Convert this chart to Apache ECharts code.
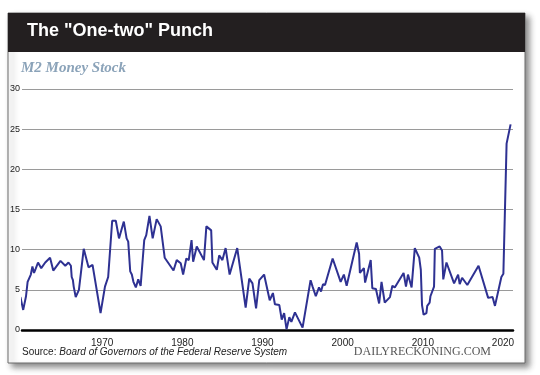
<!DOCTYPE html>
<html>
<head>
<meta charset="utf-8">
<script src="https://cdn.jsdelivr.net/npm/echarts@6/dist/echarts.min.js"></script>
<style>
  html, body { margin: 0; padding: 0; background: #fff; }
  #chart { width: 540px; height: 375px; }
</style>
</head>
<body>
<div id="chart"></div>
<script>
// M2 money stock, year-over-year growth (%)
const years = [
  1959.8, 1960.15, 1960.5, 1960.7, 1961.1, 1961.3, 1961.5, 1961.7, 1962.0, 1962.4,
  1962.9, 1963.5, 1963.9, 1964.8, 1965.4, 1965.8, 1966.1, 1966.2, 1966.35, 1966.45,
  1966.7, 1967.1, 1967.7, 1968.3, 1968.8, 1969.8, 1970.35, 1970.75, 1971.25, 1971.7,
  1972.1, 1972.7, 1973.05, 1973.25, 1973.5, 1973.7, 1973.9, 1974.2, 1974.5, 1974.8,
  1975.25, 1975.5, 1975.9, 1976.3, 1976.8, 1977.3, 1977.8, 1978.9, 1979.3, 1979.8,
  1980.1, 1980.5, 1980.8, 1981.15, 1981.35, 1981.8, 1982.7, 1983.0, 1983.6, 1983.75,
  1984.3, 1984.6, 1985.0, 1985.4, 1985.9, 1986.85, 1987.9, 1988.35, 1988.75, 1989.2,
  1989.6, 1990.2, 1990.9, 1991.3, 1991.55, 1992.1, 1992.4, 1992.7, 1993.0, 1993.35,
  1993.6, 1994.05, 1995.0, 1996.0, 1996.25, 1996.65, 1997.05, 1997.3, 1997.55, 1997.8,
  1998.75, 1999.75, 2000.15, 2000.5, 2001.75, 2002.05, 2002.15, 2002.65, 2002.8, 2003.5,
  2003.7, 2004.15, 2004.55, 2004.85, 2005.25, 2005.9, 2006.2, 2006.5, 2007.6, 2007.9,
  2008.15, 2008.6, 2009.0, 2009.55, 2009.75, 2009.9, 2010.1, 2010.45, 2010.55, 2010.85,
  2010.95, 2011.4, 2011.5, 2012.1, 2012.4, 2012.55, 2012.95, 2013.9, 2014.4, 2014.6,
  2014.9, 2015.55, 2016.95, 2018.15, 2018.7, 2019.0, 2019.8, 2020.05, 2020.45, 2020.95
];
const growth = [
  4.1, 2.5, 4.2, 6.0, 6.9, 7.9, 7.1, 7.6, 8.4, 7.7,
  8.4, 9.0, 7.4, 8.6, 8.0, 8.4, 8.0, 6.6, 6.2, 5.4,
  4.1, 5.0, 10.1, 7.8, 8.1, 2.1, 5.4, 6.6, 13.6, 13.6,
  11.4, 13.5, 11.4, 11.0, 7.3, 6.9, 6.0, 5.3, 6.3, 5.5,
  11.2, 11.8, 14.2, 11.4, 13.8, 12.9, 9.0, 7.4, 8.7, 8.3,
  6.9, 8.9, 8.7, 11.2, 8.5, 10.4, 8.7, 12.9, 12.4, 8.4,
  7.5, 9.3, 8.7, 10.2, 6.9, 10.2, 2.8, 6.4, 5.8, 2.7,
  6.2, 6.9, 3.7, 4.6, 3.2, 3.1, 1.3, 2.1, 0.1, 1.6,
  1.0, 2.2, 0.3, 6.2, 5.4, 4.2, 5.3, 4.8, 5.7, 5.6,
  8.9, 6.0, 6.9, 5.5, 10.9, 9.5, 7.1, 7.7, 5.9, 8.7,
  5.2, 5.1, 3.3, 6.0, 3.4, 4.1, 5.5, 5.3, 7.1, 5.4,
  6.9, 5.3, 10.2, 9.0, 7.5, 3.1, 1.9, 2.1, 3.0, 3.4,
  4.2, 5.4, 10.1, 10.4, 9.9, 6.3, 8.4, 5.8, 6.9, 5.7,
  6.5, 5.6, 8.0, 4.0, 4.1, 3.0, 6.6, 7.0, 23.2, 25.6
];
const yTicks = [0, 5, 10, 15, 20, 25, 30];
const xTicks = [1970, 1980, 1990, 2000, 2010, 2020];

const chart = echarts.init(document.getElementById('chart'));

let option = {
  animation: false,
  backgroundColor: '#fff',
  grid: {
    left: 22,
    right: 27,
    top: 89,
    bottom: 45,
    containLabel: false
  },
  graphic: [
    {
      type: 'rect',
      z: -10,
      shape: { x: 8, y: 13, width: 517, height: 350 },
      style: {
        fill: '#fff',
        stroke: '#6b6b6b',
        lineWidth: 1,
        shadowBlur: 6,
        shadowOffsetX: 4,
        shadowOffsetY: 4,
        shadowColor: 'rgba(0,0,0,0.45)'
      }
    },
    {
      type: 'rect',
      z: -9,
      shape: { x: 8, y: 13, width: 517, height: 39 },
      style: { fill: '#231f20' }
    },
    {
      type: 'text',
      left: 27,
      top: 22,
      style: {
        text: 'The "One-two" Punch',
        fill: '#fff',
        font: 'bold 18px "Liberation Sans", Arial, sans-serif'
      }
    },
    {
      type: 'text',
      left: 21,
      top: 61,
      style: {
        text: 'M2 Money Stock',
        fill: '#8ba3b9',
        font: 'italic bold 15px "Liberation Serif", "DejaVu Serif", serif'
      }
    },
    {
      type: 'text',
      left: 22,
      top: 347,
      style: {
        text: '{a|Source: }{b|Board of Governors of the Federal Reserve System}',
        rich: {
          a: { fontSize: 10, fontFamily: '"Liberation Sans", Arial, sans-serif', fill: '#222' },
          b: { fontSize: 10, fontStyle: 'italic', fontFamily: '"Liberation Sans", Arial, sans-serif', fill: '#222' }
        }
      }
    },
    {
      type: 'text',
      right: 49,
      top: 346,
      style: {
        text: 'DAILYRECKONING.COM',
        fill: '#555',
        font: '12px "Liberation Serif", "DejaVu Serif", serif'
      }
    }
  ],
  xAxis: {
    type: 'value',
    min: 1960,
    max: 2021.25,
    interval: 10,
    axisLine: { show: true, onZero: true, lineStyle: { color: '#000', width: 2.5 } },
    axisTick: { show: false },
    splitLine: { show: false },
    axisLabel: {
      color: '#222',
      fontSize: 10,
      fontFamily: '"Liberation Sans", Arial, sans-serif',
      margin: 8,
      showMinLabel: false,
      showMaxLabel: true,
      formatter: function (v) { return xTicks.indexOf(v) >= 0 ? String(v) : ''; }
    }
  },
  yAxis: {
    type: 'value',
    min: 0,
    max: 30,
    interval: 5,
    axisLine: { show: false },
    axisTick: { show: false },
    splitLine: { show: true, lineStyle: { color: '#9a9a9a', width: 1 } },
    axisLabel: {
      color: '#222',
      fontSize: 9,
      fontFamily: '"Liberation Sans", Arial, sans-serif',
      margin: 2,
      formatter: function (v) { return yTicks.indexOf(v) >= 0 ? String(v) : ''; }
    }
  },
  series: [{
    type: 'line',
    data: years.map((y, i) => [y, growth[i]]),
    showSymbol: false,
    symbol: 'none',
    lineStyle: { color: '#2e3192', width: 2 },
    z: 3
  }]
};

chart.setOption(option);
</script>
</body>
</html>
